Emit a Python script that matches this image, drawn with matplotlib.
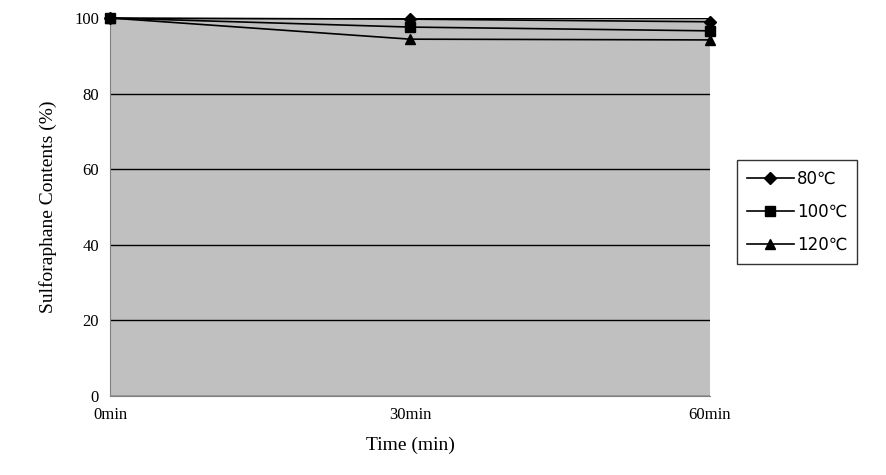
import matplotlib.pyplot as plt
import numpy as np

times = ['0min', '30min', '60min']
labels = ['80\u2103', '100\u2103', '120\u2103']
s80 = [100, 99.7, 99.0]
s100 = [100, 97.6, 96.6]
s120 = [100, 94.4, 94.2]
markers = ['D', 's', '^']

plt.rcParams['font.family'] = ['Liberation Serif', 'DejaVu Sans']

fig = plt.figure(figsize=(8.87, 4.75), dpi=100)
ax = fig.add_axes([110 / 887, 1 - 396 / 475, 600 / 887, 378 / 475])
ax.set_facecolor('#c0c0c0')

x = np.arange(len(times))
for vals, lab, m in zip([s80, s100, s120], labels, markers):
    ax.plot(x, vals, color='black', lw=1.2, marker=m,
            ms=7 if m != 'D' else 6, label=lab, clip_on=False, zorder=3)

ax.set_xlim(0, 2)
ax.set_ylim(0, 100)
ax.set_yticks(range(0, 101, 20))
ax.set_xticks(x)
ax.set_xticklabels(times)
ax.yaxis.grid(True, color='black', lw=1)
ax.set_axisbelow(True)
for s in ['top', 'right']:
    ax.spines[s].set_visible(False)
ax.spines['left'].set_color('#808080')
ax.spines['bottom'].set_color('#808080')
ax.tick_params(length=0, labelsize=12, pad=8)
ax.set_xlabel('Time (min)', fontsize=14, labelpad=10)
ax.set_ylabel('Sulforaphane Contents (%)', fontsize=14, labelpad=12)

leg = ax.legend(loc='upper left', bbox_to_anchor=((737 - 110) / 600, (396 - 160) / 378),
                frameon=True, fancybox=False, edgecolor='black',
                fontsize=12, handlelength=2.8, handletextpad=0.2,
                borderpad=0.6, borderaxespad=0, labelspacing=0.9)
leg.get_frame().set_linewidth(1)
for t in leg.get_texts():
    t.set_family(['DejaVu Sans'])

fig.savefig('out.png', dpi=100)
